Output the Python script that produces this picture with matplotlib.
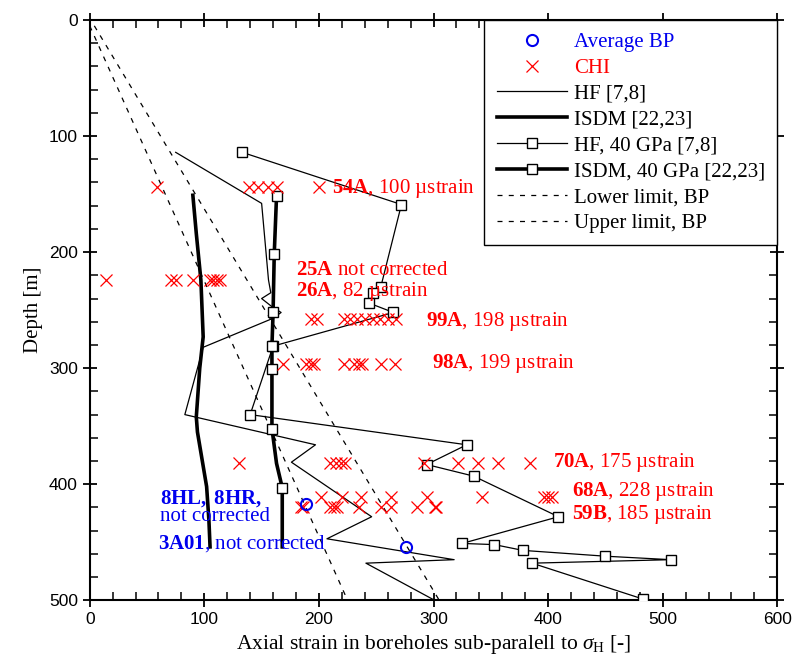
import numpy as np
import matplotlib
matplotlib.use("Agg")
import matplotlib.pyplot as plt
from matplotlib.ticker import MultipleLocator

plt.rcParams['font.family'] = ['Liberation Serif', 'DejaVu Serif']
plt.rcParams['mathtext.fontset'] = 'custom'
plt.rcParams['mathtext.rm'] = 'Liberation Serif'
plt.rcParams['mathtext.it'] = 'Liberation Serif:italic'
plt.rcParams['mathtext.bf'] = 'Liberation Serif:bold'

# ---------------------------------------------------------
# Data (strain [-], depth [m])
# ---------------------------------------------------------
hf_depth = [114, 158, 224, 235, 240, 247, 252, 257, 282, 340, 366, 381, 428, 447, 465, 468, 500]
hf_strain = [75, 150, 156, 158, 150, 159, 167, 160, 99, 83, 197, 176, 246, 207, 318, 241, 301]

isdm_depth = [151, 184, 224, 273, 300, 342, 355, 402, 431, 454]
isdm_strain = [90, 93, 97, 99, 96, 93, 94, 102, 104, 105]

hf40_depth = [114, 159, 230, 235, 244, 252, 281, 340, 366, 383, 393, 428, 451, 452, 457, 462, 465, 468, 499]
hf40_strain = [133, 272, 254, 247, 244, 265, 160, 140, 329, 294, 335, 409, 325, 353, 378, 450, 507, 386, 483]

isdm40_depth = [152, 202, 252, 281, 301, 352, 382, 403, 454]
isdm40_strain = [163, 161, 160, 159, 159, 159, 163, 168, 168]
isdm40_marks = [0, 1, 2, 3, 4, 5, 7]

lower_bp_depth = [5, 500]
lower_bp_strain = [0, 225]
upper_bp_depth = [5, 500]
upper_bp_strain = [4, 305]

avg_bp_depth = [417, 454]
avg_bp_strain = [189, 276]

# CHI measurements, one list per borehole row
chi_54A = [59, 139, 147, 156, 163, 200]
chi_25A_26A = [14, 71, 75, 90, 105, 108, 111, 114]
chi_99A = [193, 198, 222, 227, 233, 240, 247, 253, 260, 267]
chi_98A = [169, 189, 193, 196, 222, 231, 235, 238, 254, 266]
chi_70A = [130, 210, 215, 219, 223, 292, 321, 339, 356, 384]
chi_68A = [202, 220, 237, 263, 294, 342, 396, 400, 403]
chi_59B = [184, 186, 210, 213, 216, 235, 254, 263, 286, 301, 302]
chi_rows = [chi_54A, chi_25A_26A, chi_99A, chi_98A, chi_70A, chi_68A, chi_59B]
chi_row_depth = [144, 224, 258, 296, 382, 411, 420]

red = '#ff0000'
blue = '#0000ee'

fig = plt.figure(figsize=(7.94, 6.67), dpi=100)
ax = fig.add_axes([0.113, 0.100, 0.866, 0.870])

ax.plot(avg_bp_strain, avg_bp_depth, 'o', color=blue, mfc='none', ms=8, mew=1.5,
        label='Average BP', zorder=5)
chi_x = np.concatenate(chi_rows)
chi_y = np.concatenate([[d] * len(r) for d, r in zip(chi_row_depth, chi_rows)])
ax.plot(chi_x, chi_y, 'x', color=red, ms=9, mew=0.9, label='CHI', zorder=4)
ax.plot(hf_strain, hf_depth, '-', color='black', lw=0.9, label='HF [7,8]')
ax.plot(isdm_strain, isdm_depth, '-', color='black', lw=2.6, label='ISDM [22,23]')
ax.plot(hf40_strain, hf40_depth, '-s', color='black', lw=0.9, ms=6.5, mfc='white',
        mec='black', mew=1.0, label='HF, 40 GPa [7,8]', zorder=3)
ax.plot(isdm40_strain, isdm40_depth, '-s', color='black', lw=2.6, ms=6.5, mfc='white',
        mec='black', mew=1.0, markevery=isdm40_marks, label='ISDM, 40 GPa [22,23]', zorder=3)
ax.plot(lower_bp_strain, lower_bp_depth, '--', color='black', lw=0.9, dashes=(4, 5),
        label='Lower limit, BP')
ax.plot(upper_bp_strain, upper_bp_depth, '--', color='black', lw=0.9, dashes=(4, 5),
        label='Upper limit, BP')

# Borehole annotations
fs = 15
ax.text(211, 145, r'$\mathbf{54A}$, 100 µstrain', color=red, fontsize=fs, va='center')
ax.text(180, 216, r'$\mathbf{25A}$ not corrected', color=red, fontsize=fs, va='center')
ax.text(180, 234, r'$\mathbf{26A}$, 82 µstrain', color=red, fontsize=fs, va='center')
ax.text(293, 260, r'$\mathbf{99A}$, 198 µstrain', color=red, fontsize=fs, va='center')
ax.text(299, 296, r'$\mathbf{98A}$, 199 µstrain', color=red, fontsize=fs, va='center')
ax.text(404, 381, r'$\mathbf{70A}$, 175 µstrain', color=red, fontsize=fs, va='center')
ax.text(421, 406, r'$\mathbf{68A}$, 228 µstrain', color=red, fontsize=fs, va='center')
ax.text(421, 426, r'$\mathbf{59B}$, 185 µstrain', color=red, fontsize=fs, va='center')
ax.text(61, 412, r'$\mathbf{8HL,\ 8HR,}$', color=blue, fontsize=fs, va='center')
ax.text(61, 428, 'not corrected', color=blue, fontsize=fs, va='center')
ax.text(60, 451, r'$\mathbf{3A01}$, not corrected', color=blue, fontsize=fs, va='center')

ax.set_xlim(0, 600)
ax.set_ylim(500, 0)
ax.xaxis.set_major_locator(MultipleLocator(100))
ax.xaxis.set_minor_locator(MultipleLocator(20))
ax.yaxis.set_major_locator(MultipleLocator(100))
ax.yaxis.set_minor_locator(MultipleLocator(20))
ax.tick_params(which='major', direction='inout', length=10, width=1.3,
               top=True, right=True, labelsize=12.5)
ax.tick_params(which='minor', direction='in', length=6, width=1.1, top=True, right=True)
for lab in ax.get_xticklabels() + ax.get_yticklabels():
    lab.set_family('Liberation Sans')
for sp in ax.spines.values():
    sp.set_linewidth(1.5)

ax.set_xlabel(r'Axial strain in boreholes sub-paralell to $\sigma_{\mathrm{H}}$ [-]', fontsize=15.5)
ax.set_ylabel('Depth [m]', fontsize=15)

leg = ax.legend(loc='upper right', bbox_to_anchor=(1.0, 1.0), borderaxespad=0,
                fontsize=15, handlelength=3.4, labelspacing=0.3, borderpad=0.6,
                fancybox=False, framealpha=1, edgecolor='black', handletextpad=0.3)
leg.get_frame().set_linewidth(1.0)
leg.get_texts()[0].set_color(blue)
leg.get_texts()[1].set_color(red)

fig.savefig('out.png', dpi=100)
